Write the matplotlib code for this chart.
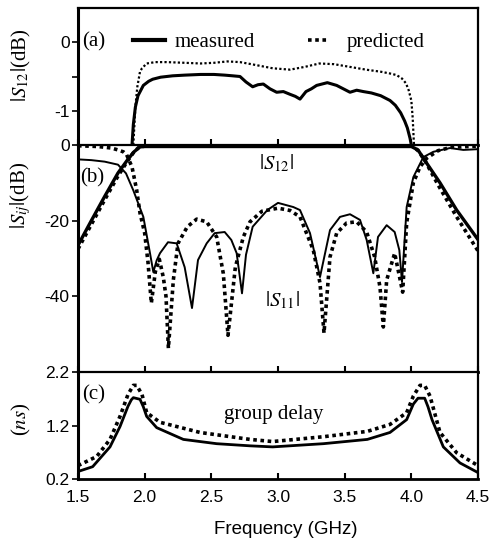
import matplotlib
matplotlib.use('Agg')
import matplotlib.pyplot as plt

plt.rcParams['font.family'] = 'Liberation Sans'
plt.rcParams['mathtext.fontset'] = 'stix'
plt.rcParams['axes.unicode_minus'] = False

SERIF = 'Liberation Serif'

# (a) |S12| passband, dB
f_a_meas = [1.905, 1.915, 1.93, 1.95, 1.99, 2.03, 2.06, 2.12, 2.21, 2.3, 2.42, 2.52, 2.6, 2.66,
            2.715, 2.76, 2.81, 2.85, 2.89, 2.94, 2.99, 3.04, 3.09, 3.13, 3.165, 3.21, 3.25, 3.29,
            3.37, 3.44, 3.49, 3.54, 3.59, 3.64, 3.7, 3.77, 3.84, 3.88, 3.92, 3.95, 3.97, 3.99, 4.0]
s12_a_meas = [-1.5, -1.2, -0.95, -0.78, -0.63, -0.57, -0.54, -0.51, -0.49, -0.48, -0.47, -0.47,
              -0.48, -0.49, -0.5, -0.58, -0.65, -0.62, -0.61, -0.68, -0.73, -0.72, -0.76, -0.79,
              -0.83, -0.72, -0.68, -0.63, -0.59, -0.63, -0.68, -0.73, -0.7, -0.72, -0.74, -0.78,
              -0.85, -0.92, -1.03, -1.15, -1.25, -1.4, -1.5]
f_a_pred = [1.915, 1.93, 1.945, 1.965, 1.98, 2.015, 2.08, 2.165, 2.3, 2.42, 2.52, 2.62, 2.715, 2.8,
            2.88, 2.96, 3.09, 3.2, 3.31, 3.42, 3.54, 3.66, 3.77, 3.85, 3.89, 3.93, 3.96, 3.98, 4.0,
            4.01, 4.02]
s12_a_pred = [-1.5, -0.95, -0.65, -0.43, -0.38, -0.31, -0.29, -0.29, -0.3, -0.31, -0.3, -0.28, -0.29,
              -0.32, -0.35, -0.38, -0.4, -0.36, -0.31, -0.32, -0.36, -0.4, -0.43, -0.46, -0.48, -0.53,
              -0.6, -0.7, -0.85, -1.1, -1.5]

# (b) |S12| and |S11|, dB
f_s12_meas = [1.5, 1.6, 1.7, 1.8, 1.87, 1.92, 1.965, 2.0, 4.0, 4.05, 4.09, 4.215, 4.34, 4.5]
s12_meas = [-26.5, -20, -13.6, -7.4, -4.0, -1.8, -0.5, -0.4, -0.4, -1.3, -3.5, -10, -17.2, -25]
f_s12_pred = [1.5, 1.6, 1.7, 1.8, 1.87, 1.92, 1.96, 2.0, 4.01, 4.05, 4.1, 4.2, 4.34, 4.5]
s12_pred = [-27.5, -21, -14.5, -8.2, -4.3, -1.8, -0.5, -0.3, -0.3, -1.5, -4.0, -10.5, -19, -28]

f_s11_meas = [1.5, 1.6, 1.7, 1.8, 1.86, 1.915, 1.99, 2.04, 2.065, 2.09, 2.115, 2.175, 2.24, 2.3,
              2.355, 2.4, 2.465, 2.525, 2.6, 2.65, 2.69, 2.73, 2.76, 2.81, 2.92, 3.0, 3.115, 3.165,
              3.24, 3.315, 3.39, 3.465, 3.54, 3.615, 3.665, 3.715, 3.75, 3.815, 3.875, 3.91, 3.93,
              3.965, 4.015, 4.09, 4.165, 4.29, 4.39, 4.5]
s11_meas = [-3.8, -4.0, -4.4, -5.2, -7.5, -12, -19, -28.6, -33.6, -30.5, -28.6, -25.7, -26, -32.3,
            -43.1, -30.4, -26, -23.3, -23, -25.1, -28.6, -39.2, -29, -21.6, -17.2, -15.3, -16.4,
            -17.2, -23.3, -34.9, -22.5, -19, -18.3, -19.8, -25.1, -33.9, -24.3, -21.2, -23, -27.8,
            -36.2, -16.4, -8.5, -3.2, -1.8, -0.8, -1.3, -1.1]
f_s11_pred = [1.5, 1.65, 1.75, 1.8, 1.84, 1.865, 1.905, 1.94, 1.965, 2.0, 2.025, 2.05, 2.08, 2.11,
              2.14, 2.16, 2.178, 2.215, 2.25, 2.32, 2.39, 2.465, 2.54, 2.59, 2.625, 2.68, 2.74, 2.79,
              2.88, 3.0, 3.09, 3.165, 3.265, 3.315, 3.345, 3.39, 3.44, 3.515, 3.59, 3.665, 3.725,
              3.765, 3.79, 3.815, 3.875, 3.935, 3.965, 4.015, 4.065, 4.115, 4.2, 4.3, 4.5]
s11_pred = [-0.2, -0.4, -0.8, -1.3, -1.8, -2.6, -5.8, -11.9, -18, -23.3, -31, -41.8, -33.5, -30.2,
            -35, -40, -53.7, -35.7, -26, -21.6, -19.6, -20.3, -24.3, -34, -50.3, -32.3, -24.3,
            -20.3, -17.5, -16.7, -17.3, -19, -27.8, -36.5, -49.7, -29.6, -23.3, -20.6, -20.3, -23,
            -29.6, -37.6, -48.1, -35.7, -28.6, -38.9, -20.6, -10, -5.8, -3.5, -1.5, -0.6, -0.3]

# (c) group delay, ns
f_gd_meas = [1.5, 1.61, 1.74, 1.815, 1.875, 1.9, 1.915, 1.965, 1.99, 2.015, 2.09, 2.29, 2.54, 2.79,
             2.96, 3.34, 3.67, 3.84, 3.965, 4.015, 4.05, 4.1, 4.125, 4.155, 4.24, 4.365, 4.5]
gd_meas = [0.34, 0.43, 0.8, 1.18, 1.56, 1.68, 1.72, 1.69, 1.55, 1.37, 1.16, 0.94, 0.86, 0.82, 0.8,
           0.86, 0.94, 1.07, 1.31, 1.6, 1.71, 1.71, 1.55, 1.31, 0.8, 0.5, 0.32]
f_gd_pred = [1.5, 1.64, 1.74, 1.815, 1.875, 1.915, 1.94, 1.98, 2.015, 2.115, 2.415, 2.79, 2.96,
             3.34, 3.67, 3.84, 3.965, 4.015, 4.065, 4.1, 4.14, 4.215, 4.34, 4.5]
gd_pred = [0.45, 0.62, 0.94, 1.37, 1.78, 1.95, 1.95, 1.78, 1.44, 1.26, 1.07, 0.94, 0.9, 0.99, 1.09,
           1.22, 1.44, 1.75, 1.95, 1.95, 1.75, 1.07, 0.69, 0.45]

x_ticks = [1.5, 2.0, 2.5, 3.0, 3.5, 4.0, 4.5]

fig = plt.figure(figsize=(4.92, 5.42), dpi=100)
L, W = 78 / 492, 400 / 492
ax1 = fig.add_axes([L, 1 - 145 / 542, W, 137 / 542])
ax2 = fig.add_axes([L, 1 - 372 / 542, W, 227 / 542], sharex=ax1)
ax3 = fig.add_axes([L, 1 - 479 / 542, W, 107 / 542], sharex=ax1)

dots = (0, (1, 1))
ax1.plot(f_a_meas, s12_a_meas, color='black', lw=2.2, solid_capstyle='butt')
ax1.plot(f_a_pred, s12_a_pred, color='black', lw=1.6, linestyle=dots)

ax2.plot(f_s12_meas, s12_meas, color='black', lw=2.4)
ax2.plot(f_s12_pred, s12_pred, color='black', lw=2.6, linestyle=dots)
ax2.plot(f_s11_meas, s11_meas, color='black', lw=1.4)
ax2.plot(f_s11_pred, s11_pred, color='black', lw=2.6, linestyle=dots)

ax3.plot(f_gd_meas, gd_meas, color='black', lw=2.0)
ax3.plot(f_gd_pred, gd_pred, color='black', lw=2.6, linestyle=dots)

ax1.set_ylim(-1.5, 0.5)
ax1.set_yticks([0, -0.5, -1])
ax1.set_yticklabels(['0', '', '-1'])
ax2.set_ylim(-60, 0)
ax2.set_yticks([0, -20, -40])
ax3.set_ylim(0.2, 2.2)
ax3.set_yticks([2.2, 1.2, 0.2])
ax3.set_yticklabels(['2.2', '1.2', '0.2'])
ax1.set_xlim(1.5, 4.5)
ax3.set_xticks(x_ticks)
ax3.set_xticklabels(['%.1f' % t for t in x_ticks])

for ax in (ax1, ax2, ax3):
    ax.tick_params(axis='x', direction='in', length=4, width=1.5, labelsize=12.5, pad=8)
    ax.tick_params(axis='y', direction='out', length=4.5, width=1.2, labelsize=12.5, pad=1.5)
    for side in ('top', 'right', 'bottom'):
        ax.spines[side].set_linewidth(1.6)
    ax.spines['left'].set_linewidth(2.2)
    ax.spines['bottom'].set_linewidth(2.0)
ax1.tick_params(axis='x', labelbottom=False)
ax2.tick_params(axis='x', labelbottom=False)

ax1.set_ylabel(r'$|S_{12}|$(dB)', family=SERIF, fontsize=15)
ax1.yaxis.set_label_coords(-0.112, 0.58)
ax2.set_ylabel(r'$|S_{ij}|$(dB)', family=SERIF, fontsize=15)
ax2.yaxis.set_label_coords(-0.112, 0.78)
ax3.set_ylabel(r'($ns$)', family=SERIF, fontsize=15)
ax3.yaxis.set_label_coords(-0.112, 0.56)
ax3.set_xlabel('Frequency (GHz)', fontsize=13.5)
ax3.xaxis.set_label_coords(0.52, -0.39)

ax1.text(0.01, 0.75, '(a)', transform=ax1.transAxes, family=SERIF, fontsize=15, va='center')
ax2.text(0.005, 0.855, '(b)', transform=ax2.transAxes, family=SERIF, fontsize=15, va='center')
ax3.text(0.01, 0.79, '(c)', transform=ax3.transAxes, family=SERIF, fontsize=15, va='center')
ax2.text(0.495, 0.92, r'$|S_{12}|$', transform=ax2.transAxes, fontsize=15, ha='center', va='center')
ax2.text(0.51, 0.317, r'$|S_{11}|$', transform=ax2.transAxes, fontsize=15, ha='center', va='center')
ax3.text(0.49, 0.60, 'group delay', transform=ax3.transAxes, family=SERIF, fontsize=15,
         ha='center', va='center')

h_meas, = ax1.plot([], [], color='black', lw=3)
h_pred, = ax1.plot([], [], color='black', lw=2.6, linestyle=dots)
leg1 = ax1.legend([h_meas], ['measured'], loc='center left', bbox_to_anchor=(0.1375, 0.75),
                  frameon=False, borderpad=0, borderaxespad=0, handlelength=1.55,
                  handletextpad=0.45, prop={'family': SERIF, 'size': 15})
ax1.add_artist(leg1)
ax1.legend([h_pred], ['predicted'], loc='center left', bbox_to_anchor=(0.575, 0.75),
           frameon=False, borderpad=0, borderaxespad=0, handlelength=0.95,
           handletextpad=0.9, prop={'family': SERIF, 'size': 15})

fig.savefig('out.png', dpi=100)
